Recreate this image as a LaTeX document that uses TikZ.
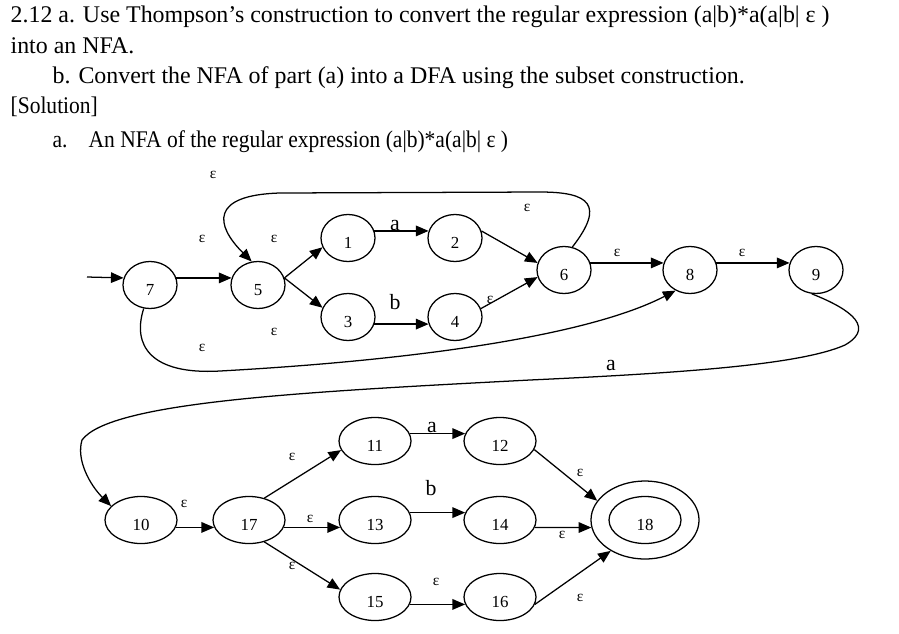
\documentclass[tikz,border=0pt]{standalone}
\usepackage{fontspec}
\setmainfont{Liberation Serif}
\newfontfamily\narrowserif[FakeStretch=0.9]{Liberation Serif}
\usetikzlibrary{arrows.meta,shapes.geometric}
\tikzset{
  figure/.style={x=0.025cm,y=-0.025cm,line width=0.9pt},
  state/.style={draw,ellipse,line width=0.9pt,inner sep=0pt,minimum width=1.35cm,minimum height=1.175cm,
    text height=15pt,text depth=0pt,font=\fontsize{12}{12}\selectfont},
  widestate/.style={state,minimum width=1.8cm},
  edge/.style={-{Triangle[length=9pt,width=7.5pt]},line width=0.9pt},
  sym/.style={font=\fontsize{15.5}{15.5}\selectfont,inner sep=0pt},
  eps/.style={font=\fontsize{11}{11}\selectfont,inner sep=0pt},
  heading/.style={anchor=base west,inner sep=0pt,font=\fontsize{17}{17}\selectfont},
  subheading/.style={heading,font=\narrowserif\fontsize{17}{17}\selectfont},
}

\begin{document}
\begin{tikzpicture}[figure]
  \useasboundingbox (0,0) rectangle (899,633);

  \node[heading] (line1) at (10,22) {2.12 a. Use Thompson’s construction to convert the regular expression (a|b)*a(a|b| ε )};
  \node[heading] (line2) at (10,53) {into an NFA.};
  \node[heading] (line3) at (52,83) {b. Convert the NFA of part (a) into a DFA using the subset construction.};
  \node[subheading] (line4) at (10,113) {[Solution]};
  \node[subheading] (line5) at (52,147) {\makebox[0.9cm][l]{a.}An NFA of the regular expression (a|b)*a(a|b| ε )};

  \node[state] (q7) at (150,285) {7};
  \node[state] (q5) at (258,285) {5};
  \node[state] (q1) at (348,238) {1};
  \node[state] (q2) at (455,238) {2};
  \node[state] (q3) at (348,317) {3};
  \node[state] (q4) at (455,317) {4};
  \node[state] (q6) at (564,270) {6};
  \node[state] (q8) at (690,270) {8};
  \node[state] (q9) at (816,270) {9};
  \coordinate (start) at (87,277);

  \draw[edge] (start) -- (q7.165);
  \draw[edge] (q7.15) -- (q5.165);
  \draw[edge] (q5.15) -- (q1.200);
  \draw[edge] (q5.15) -- (q3.160);
  \draw[edge] (q1.15) -- (q2.165);
  \draw[edge] (q3.345) -- (q4.195);
  \draw[edge] (q2.15) -- (q6.165);
  \draw[edge] (q4.18) -- (q6.195);
  \draw[edge] (q6.15) -- (q8.165);
  \draw[edge] (q8.15) -- (q9.165);
  \draw[edge] (q6.70) .. controls (605,205) and (590,192) .. (540,192) -- (280,193)
    .. controls (210,195) and (215,225) .. (q5.105);
  \draw[edge] (q7.255) .. controls (132,345) and (150,375) .. (220,371)
    .. controls (420,360) and (590,335) .. (q8.235);

  \node[eps] (e65a) at (213,175) {ε};
  \node[eps] (e65b) at (527,208) {ε};
  \node[eps] (e75) at (202,239) {ε};
  \node[eps] (e51) at (274,239) {ε};
  \node[eps] (e53) at (274,332) {ε};
  \node[eps] (e78) at (202,348) {ε};
  \node[eps] (e46) at (490,300) {ε};
  \node[eps] (e68) at (617,253) {ε};
  \node[eps] (e89) at (742,253) {ε};
  \node[sym] (a12) at (395,225) {a};
  \node[sym] (b34) at (395,302) {b};

  \node[widestate] (q10) at (141,520) {10};
  \node[widestate] (q17) at (249,520) {17};
  \node[widestate] (q11) at (375,441) {11};
  \node[widestate] (q13) at (375,520) {13};
  \node[widestate] (q15) at (375,597) {15};
  \node[widestate] (q12) at (500,441) {12};
  \node[widestate] (q14) at (500,520) {14};
  \node[widestate] (q16) at (500,597) {16};
  \node[draw,ellipse,line width=0.9pt,minimum width=2.7cm,minimum height=1.95cm] (q18) at (645,520) {};
  \node[widestate] (q18in) at (645,520) {18};

  \draw[edge] (q9.260) .. controls (840,305) and (880,325) .. (845,345)
    .. controls (800,365) and (680,373) .. (530,380)
    .. controls (300,392) and (110,402) .. (82,440)
    .. controls (76,460) and (90,485) .. (q10.155);
  \draw[edge] (q10.348) -- (q17.192);
  \draw[edge] (q17.55) -- (q11.195);
  \draw[edge] (q17.348) -- (q13.192);
  \draw[edge] (q17.305) -- (q15.168);
  \draw[edge] (q11.12) -- (q12.168);
  \draw[edge] (q13.12) -- (q14.168);
  \draw[edge] (q15.348) -- (q16.192);
  \draw[edge] (q12.346) -- (q18.158);
  \draw[edge] (q14.348) -- (q18.188);
  \draw[edge] (q16.348) -- (q18.222);

  \node[sym] (a910) at (611,365) {a};
  \node[eps] (e1017) at (184,504) {ε};
  \node[eps] (e1711) at (292,457) {ε};
  \node[eps] (e1713) at (310,519) {ε};
  \node[eps] (e1715) at (292,566) {ε};
  \node[sym] (a1112) at (432,427) {a};
  \node[sym] (b1314) at (431,488) {b};
  \node[eps] (e1516) at (436,582) {ε};
  \node[eps] (e1218) at (580,473) {ε};
  \node[eps] (e1418) at (562,535) {ε};
  \node[eps] (e1618) at (580,598) {ε};
\end{tikzpicture}
\end{document}
